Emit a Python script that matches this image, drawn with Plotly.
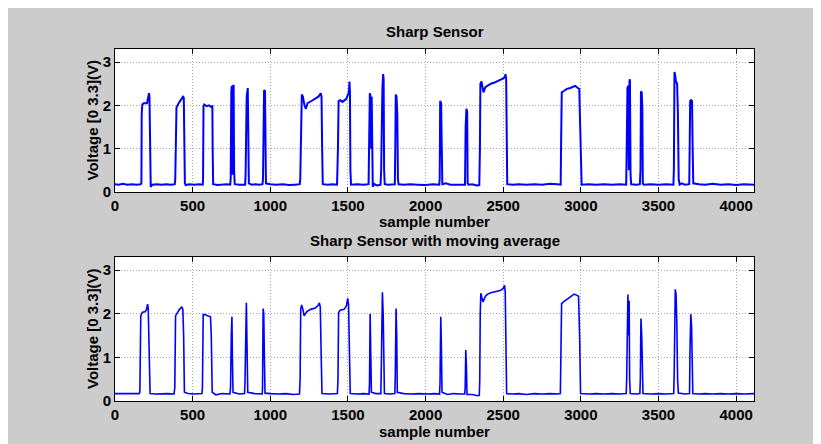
import plotly.graph_objects as go

# ---- data: (sample, voltage) breakpoints ----
raw_points = [
    (0,0.18),(25,0.17),(50,0.19),(80,0.17),(110,0.18),(140,0.17),(165,0.18),
    (170,0.20),(172,1.80),(176,2.02),(185,2.05),(200,2.06),(206,2.05),(212,2.15),(219,2.28),(222,2.20),(224,1.20),(227,0.15),(230,0.12),(240,0.17),(270,0.18),(300,0.17),(330,0.18),(360,0.17),(385,0.18),
    (388,0.3),(391,1.85),(396,1.95),(410,2.05),(425,2.12),(438,2.2),(443,2.18),(446,1.2),(450,0.2),(455,0.16),(480,0.18),(510,0.17),(540,0.18),(565,0.17),
    (567,0.3),(570,1.98),(575,2.02),(590,1.98),(605,2.0),(615,1.97),(627,1.98),(629,1.0),(632,0.18),(660,0.16),(690,0.17),(720,0.18),(742,0.17),
    (745,0.3),(749,2.3),(752,2.45),(755,0.5),(758,0.4),(761,2.45),(764,2.47),(767,0.5),(771,0.18),(800,0.17),(830,0.18),(838,0.17),
    (841,0.4),(844,1.4),(848,2.2),(855,2.4),(859,1.2),(862,0.2),(880,0.17),(905,0.18),(930,0.17),(950,0.18),
    (953,0.3),(956,1.6),(960,2.35),(966,2.33),(969,0.6),(972,0.2),(1000,0.18),(1040,0.17),(1080,0.18),(1120,0.16),(1160,0.17),(1190,0.18),
    (1193,0.3),(1196,1.2),(1199,2.1),(1203,2.25),(1210,2.2),(1220,2.0),(1229,1.92),(1240,2.05),(1265,2.1),(1290,2.15),(1310,2.2),(1325,2.28),(1330,2.2),(1334,1.0),(1338,0.18),(1370,0.17),(1400,0.18),(1430,0.17),
    (1434,0.5),(1436,1.05),(1440,2.1),(1450,2.12),(1465,2.08),(1490,2.15),(1500,2.25),(1506,2.3),(1510,2.55),(1513,2.3),(1516,0.5),(1520,0.17),(1560,0.18),(1600,0.17),(1633,0.18),
    (1637,1.1),(1641,2.28),(1646,2.2),(1650,1.0),(1653,2.2),(1656,0.3),(1660,0.12),(1668,0.2),(1675,0.17),(1690,0.15),(1710,0.17),
    (1714,0.5),(1717,2.3),(1722,2.4),(1727,2.72),(1730,2.6),(1733,0.5),(1737,0.18),(1760,0.17),(1790,0.18),(1802,0.18),
    (1805,1.0),(1808,2.25),(1813,2.2),(1818,1.8),(1822,0.3),(1826,0.18),(1860,0.17),(1900,0.18),(1950,0.17),(2000,0.16),(2050,0.18),(2088,0.17),
    (2091,0.3),(2094,2.1),(2100,2.05),(2105,0.5),(2108,0.18),(2130,0.2),(2160,0.17),(2200,0.17),(2240,0.18),(2254,0.17),
    (2258,1.5),(2263,1.92),(2268,1.85),(2271,0.2),(2276,0.17),(2300,0.18),(2330,0.15),(2346,0.16),
    (2350,1.0),(2353,2.5),(2360,2.55),(2366,2.45),(2373,2.3),(2385,2.42),(2400,2.45),(2420,2.5),(2440,2.52),(2459,2.55),(2480,2.58),(2500,2.62),(2510,2.65),(2515,2.72),(2519,2.6),(2522,1.0),(2526,0.18),(2560,0.17),(2600,0.18),(2650,0.17),(2700,0.18),(2750,0.17),(2800,0.19),(2850,0.18),(2870,0.17),
    (2873,1.2),(2877,2.3),(2890,2.33),(2910,2.38),(2932,2.4),(2950,2.43),(2964,2.45),(2980,2.4),(2990,2.38),(2995,1.6),(3000,0.3),(3005,0.17),(3050,0.18),(3100,0.17),(3150,0.18),(3200,0.17),(3250,0.18),(3292,0.17),
    (3296,1.2),(3300,2.4),(3305,2.45),(3309,0.5),(3313,2.55),(3316,2.6),(3320,0.4),(3324,0.18),(3360,0.17),(3380,0.18),
    (3384,0.5),(3387,2.32),(3392,2.3),(3396,1.9),(3399,0.2),(3405,0.17),(3450,0.18),(3500,0.17),(3550,0.18),(3596,0.17),
    (3599,0.5),(3603,2.77),(3607,2.7),(3612,2.55),(3620,2.5),(3625,1.8),(3630,0.3),(3636,0.17),(3650,0.2),(3670,0.17),(3698,0.18),
    (3701,1.1),(3704,2.1),(3710,2.12),(3716,2.1),(3720,1.0),(3724,0.2),(3760,0.18),(3800,0.17),(3850,0.19),(3900,0.17),(3950,0.18),(4000,0.16),(4050,0.18),(4115,0.17),
]

avg_points = [
    (0,0.17),(40,0.17),(80,0.16),(120,0.17),(155,0.17),
    (160,0.2),(166,1.95),(175,2.03),(195,2.05),(203,2.1),(210,2.22),(214,2.12),(220,1.0),(226,0.17),(260,0.16),(300,0.17),(340,0.17),(380,0.16),
    (385,0.3),(390,1.95),(400,2.02),(415,2.1),(430,2.15),(437,2.1),(442,1.5),(447,0.2),(470,0.17),(510,0.16),(560,0.17),
    (563,0.3),(568,1.98),(580,1.98),(600,1.95),(615,1.93),(620,1.5),(626,0.2),(650,0.14),(690,0.17),(740,0.16),
    (744,0.3),(749,1.5),(753,1.93),(756,1.0),(760,0.2),(800,0.16),(834,0.17),
    (837,0.4),(842,1.6),(846,2.25),(850,1.3),(855,0.2),(900,0.17),(948,0.16),
    (950,0.3),(954,2.12),(958,2.0),(962,1.0),(966,0.18),(1000,0.17),(1050,0.16),(1100,0.17),(1150,0.15),(1188,0.16),
    (1192,0.5),(1196,2.1),(1202,2.2),(1210,2.1),(1218,1.95),(1235,2.05),(1260,2.1),(1290,2.13),(1310,2.2),(1316,2.25),(1322,2.15),(1328,1.0),(1333,0.17),(1380,0.16),(1432,0.17),
    (1436,0.5),(1440,2.03),(1450,2.08),(1475,2.1),(1490,2.18),(1499,2.35),(1504,2.2),(1510,0.5),(1515,0.17),(1560,0.16),(1600,0.17),(1636,0.16),
    (1639,0.4),(1643,2.0),(1647,1.2),(1651,0.2),(1680,0.17),(1712,0.17),
    (1716,1.0),(1722,2.49),(1727,2.0),(1731,0.4),(1735,0.17),(1770,0.16),(1802,0.17),
    (1805,0.6),(1810,2.12),(1814,1.5),(1818,0.2),(1860,0.17),(1910,0.16),(1960,0.17),(2010,0.16),(2060,0.17),(2090,0.16),
    (2093,0.4),(2098,1.93),(2102,1.2),(2106,0.2),(2140,0.15),(2180,0.17),(2220,0.16),(2252,0.16),
    (2255,0.3),(2259,1.17),(2263,0.8),(2267,0.15),(2300,0.15),(2335,0.12),(2346,0.13),
    (2349,0.5),(2352,2.0),(2356,2.47),(2362,2.38),(2370,2.27),(2385,2.4),(2400,2.45),(2420,2.48),(2440,2.5),(2460,2.52),(2480,2.53),(2500,2.58),(2509,2.65),(2513,2.5),(2517,1.0),(2522,0.17),(2560,0.16),(2600,0.17),(2650,0.15),(2700,0.17),(2750,0.16),(2800,0.17),(2850,0.16),(2868,0.17),
    (2872,1.2),(2876,2.23),(2890,2.28),(2910,2.33),(2930,2.38),(2957,2.45),(2975,2.42),(2985,2.4),(2992,1.5),(2998,0.17),(3050,0.16),(3100,0.17),(3150,0.16),(3200,0.17),(3250,0.16),(3292,0.17),
    (3295,0.5),(3299,2.0),(3303,2.44),(3307,1.5),(3311,2.3),(3314,0.5),(3318,0.17),(3360,0.16),(3380,0.17),
    (3383,0.5),(3387,1.89),(3392,1.5),(3396,0.5),(3400,0.17),(3450,0.16),(3500,0.17),(3550,0.16),(3598,0.17),
    (3601,0.6),(3604,2.2),(3608,2.56),(3613,2.45),(3618,1.8),(3623,0.5),(3628,0.18),(3670,0.16),(3700,0.17),
    (3703,1.2),(3708,1.99),(3713,1.7),(3717,0.5),(3721,0.17),(3760,0.16),(3800,0.17),(3850,0.16),(3900,0.17),(3950,0.16),(4000,0.17),(4050,0.16),(4115,0.17),
]

x_ticks = [0, 500, 1000, 1500, 2000, 2500, 3000, 3500, 4000]
y_ticks = [0, 1, 2, 3]
titles = ["Sharp Sensor", "Sharp Sensor with moving average"]
x_label = "sample number"
y_label = "Voltage [0 3.3](V)"

raw_x = [p[0] for p in raw_points]
raw_y = [p[1] for p in raw_points]
avg_x = [p[0] for p in avg_points]
avg_y = [p[1] for p in avg_points]

FONT = "Liberation Sans, Arial, Helvetica, sans-serif"
W, H = 821, 444
OX, OY = 8, 8          # page offset of the figure (body margin)
L, R, T, B = 115 - OX, 754 - OX, 49 - OY, 401 - OY


def px(xs):
    """screen x pixel -> paper coordinate"""
    return (xs - OX - L) / (R - L)


def py(ys):
    """screen y pixel -> paper coordinate"""
    return (B - (ys - OY)) / (B - T)


fig = go.Figure()
fig.add_trace(go.Scatter(x=raw_x, y=raw_y, mode="lines",
                         line=dict(color="#0000ff", width=2), xaxis="x", yaxis="y"))
fig.add_trace(go.Scatter(x=avg_x, y=avg_y, mode="lines",
                         line=dict(color="#0000ff", width=1.6), xaxis="x2", yaxis="y2"))

axis_common = dict(
    showline=True, linecolor="black", linewidth=1, mirror="ticks",
    ticks="inside", ticklen=5, tickcolor="black", tickwidth=1,
    showgrid=True, gridcolor="#a8a8a8", griddash="1px,2px", gridwidth=1,
    zeroline=False,
    tickfont=dict(family=FONT, size=15, color="black", weight="bold"),
)

fig.update_layout(
    width=W, height=H,
    margin=dict(l=L, r=W - R, t=T, b=H - B, pad=0),
    paper_bgcolor="#cccccc",
    plot_bgcolor="white",
    showlegend=False,
    xaxis=dict(domain=[0, 1], anchor="y", range=[0, 4115], tickvals=x_ticks, **axis_common),
    yaxis=dict(domain=[py(192), 1], anchor="x", range=[0, 3.3], tickvals=y_ticks, **axis_common),
    xaxis2=dict(domain=[0, 1], anchor="y2", range=[0, 4115], tickvals=x_ticks, **axis_common),
    yaxis2=dict(domain=[0, py(257)], anchor="x2", range=[0, 3.3], tickvals=y_ticks, **axis_common),
)

lab_font = dict(family=FONT, size=15, color="black", weight="bold")
ann = [
    dict(text=titles[0], x=0.5, y=py(32)),
    dict(text=titles[1], x=0.5, y=py(240)),
    dict(text=x_label, x=0.5, y=py(221)),
    dict(text=x_label, x=0.5, y=py(431)),
    dict(text=y_label, x=px(92), y=py(120.5), textangle=-90),
    dict(text=y_label, x=px(92), y=py(329), textangle=-90),
]
for a in ann:
    fig.add_annotation(xref="paper", yref="paper", showarrow=False,
                       xanchor="center", yanchor="middle", font=lab_font, **a)

fig.write_html("out.html")
